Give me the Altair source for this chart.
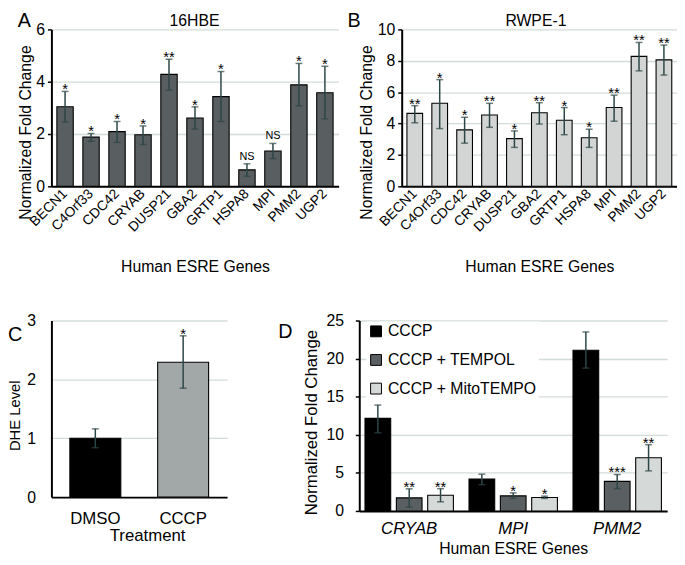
import altair as alt
import pandas as pd

FONT = "Liberation Sans, Arial, sans-serif"
EC = "#2c4646"
GRID = "#d3dcd9"

# ---------------- data ----------------
genes = ["BECN1", "C4Orf33", "CDC42", "CRYAB", "DUSP21", "GBA2", "GRTP1", "HSPA8", "MPI", "PMM2", "UGP2"]

a_val = [3.04, 1.88, 2.09, 1.97, 4.28, 2.61, 3.43, 0.63, 1.35, 3.88, 3.58]
a_lo = [2.46, 1.72, 1.68, 1.60, 3.68, 2.19, 2.48, 0.38, 1.06, 3.08, 2.58]
a_hi = [3.63, 2.02, 2.48, 2.31, 4.86, 3.04, 4.39, 0.86, 1.64, 4.70, 4.59]
a_sig = ["*", "*", "*", "*", "**", "*", "*", "NS", "NS", "*", "*"]

b_val = [4.65, 5.29, 3.60, 4.55, 3.04, 4.69, 4.21, 3.10, 5.02, 8.28, 8.06]
b_lo = [4.05, 3.68, 2.75, 3.76, 2.48, 3.97, 3.29, 2.48, 4.15, 7.36, 7.09]
b_hi = [5.14, 6.80, 4.40, 5.29, 3.53, 5.33, 5.02, 3.64, 5.81, 9.17, 9.00]
b_sig = ["**", "*", "*", "**", "*", "**", "*", "*", "**", "**", "**"]

c_treat = ["DMSO", "CCCP"]
c_val = [1.00, 2.29]
c_lo = [0.84, 1.85]
c_hi = [1.16, 2.74]
c_sig = ["", "*"]
c_fill = ["#000000", "#a2a8a8"]

d_genes = ["CRYAB", "MPI", "PMM2"]
d_treats = ["CCCP", "CCCP + TEMPOL", "CCCP + MitoTEMPO"]
d_colors = ["#000000", "#5a5f61", "#d5d9d7"]
d_cccp = [12.15, 4.18, 21.10]
d_cccp_lo = [10.26, 3.45, 18.75]
d_cccp_hi = [13.90, 4.83, 23.50]
d_tempol = [1.72, 1.98, 3.88]
d_tempol_lo = [0.50, 1.64, 2.93]
d_tempol_hi = [2.90, 2.37, 4.78]
d_mito = [2.07, 1.77, 6.98]
d_mito_lo = [1.20, 1.64, 5.26]
d_mito_hi = [2.93, 1.94, 8.70]
d_sig = [["", "", ""], ["**", "*", "***"], ["**", "*", "**"]]


def yaxis(vals, title, tx, ty, tsize=17, lpad=3, tick=True):
    return alt.Axis(values=vals, format="d", labelOverlap=False, title=title, grid=True,
                    gridColor=GRID, gridWidth=1.3,
                    domainColor="black", domainWidth=2, ticks=tick, tickColor="black",
                    tickSize=4 if tick else 0, tickWidth=1.5, labelFont=FONT, labelFontSize=16,
                    labelColor="black", labelPadding=lpad, titleFont=FONT, titleFontSize=tsize,
                    titleFontWeight="normal", titleColor="black", titleAngle=-90,
                    titleAlign="center", titleBaseline="alphabetic", titleX=tx, titleY=ty)


def label_layer(text, x, y, size, align="left"):
    return alt.Chart(pd.DataFrame({"t": [text]})).mark_text(
        font=FONT, fontSize=size, align=align, baseline="alphabetic", color="black"
    ).encode(text="t:N", x=alt.value(x), y=alt.value(y))


def value_layers(base, scale, axis, bar_kwargs, bar_extra):
    Y = lambda f: alt.Y(f, scale=scale, axis=axis)
    bars = base.mark_bar(stroke="black", strokeWidth=1.1, **bar_kwargs).encode(y=Y("value:Q"), **bar_extra)
    rule = base.mark_rule(color=EC, strokeWidth=1.5).encode(y=Y("lo:Q"), y2="hi:Q")
    cap_hi = base.mark_tick(color=EC, thickness=1.5, size=7).encode(y=Y("hi:Q"))
    cap_lo = base.mark_tick(color=EC, thickness=1.5, size=7).encode(y=Y("lo:Q"))
    stars = base.transform_filter("datum.sig != 'NS'").mark_text(
        font=FONT, fontSize=15, baseline="alphabetic", dy=3, color="black").encode(
        y=Y("hi:Q"), text="sig:N")
    ns = base.transform_filter("datum.sig == 'NS'").mark_text(
        font=FONT, fontSize=11, baseline="alphabetic", dy=-4, color="black").encode(
        y=Y("hi:Q"), text="sig:N")
    return [bars, rule, cap_hi, cap_lo, stars, ns]


def gene_panel(vals, lo, hi, sig, ymax, ystep, fill, width, height, title, title_x,
               letter, letter_x, yt_x):
    df = pd.DataFrame({"gene": genes, "value": vals, "lo": lo, "hi": hi, "sig": sig})
    x = alt.X("gene:N", sort=genes, title="Human ESRE Genes",
              scale=alt.Scale(paddingInner=0.37, paddingOuter=0.21),
              axis=alt.Axis(labelAngle=-45, labelAlign="right", labelBaseline="middle",
                            labelFont=FONT, labelFontSize=14, labelColor="black", labelPadding=5,
                            labelOverlap=False,
                            ticks=False, tickSize=0, domainColor="black", domainWidth=2,
                            titleFont=FONT, titleFontSize=16, titleFontWeight="normal",
                            titleColor="black", titleY=86, titleBaseline="alphabetic"))
    yscale = alt.Scale(domain=[0, ymax], nice=False)
    ax = yaxis(list(range(0, ymax + 1, ystep)), "Normalized Fold Change", yt_x, 104, tsize=16)
    base = alt.Chart(df).encode(x=x)
    layers = value_layers(base, yscale, ax, {"fill": fill}, {})
    t = label_layer(title, title_x, -3, 16, align="center")
    let = label_layer(letter, letter_x, -2, 20)
    return alt.layer(*layers, t, let).properties(width=width, height=height)


A = gene_panel(a_val, a_lo, a_hi, a_sig, 6, 2, "#595e60", 291, 159, "16HBE", 145, "A", -34, -21)
B = gene_panel(b_val, b_lo, b_hi, b_sig, 10, 2, "#d2d5d4", 279, 159, "RWPE-1", 136, "B", -55, -31)

# ---------------- panel C ----------------
dfc = pd.DataFrame({"treat": c_treat, "value": c_val, "lo": c_lo, "hi": c_hi, "sig": c_sig, "fill": c_fill})
xc = alt.X("treat:N", sort=c_treat, title="Treatment",
           scale=alt.Scale(paddingInner=0.42, paddingOuter=0.21),
           axis=alt.Axis(labelAngle=0, labelFont=FONT, labelFontSize=17, labelColor="black",
                         labelPadding=14, ticks=False, tickSize=0, domainColor="black", domainWidth=2,
                         titleFont=FONT, titleFontSize=17, titleFontWeight="normal", titleColor="black",
                         titleX=97, titleY=44, titleBaseline="alphabetic", titleAlign="center"))
cscale = alt.Scale(domain=[0, 3], nice=False)
cax = yaxis([0, 1, 2, 3], "DHE Level", -32, 96, tsize=15, lpad=16, tick=False)
basec = alt.Chart(dfc).encode(x=xc)
clayers = value_layers(basec, cscale, cax, {}, {"color": alt.Color("fill:N", scale=None)})
C = alt.layer(*clayers, label_layer("C", -44, 21, 20)).properties(width=178, height=179)

# ---------------- panel D ----------------
rows = []
series = [(d_cccp, d_cccp_lo, d_cccp_hi), (d_tempol, d_tempol_lo, d_tempol_hi), (d_mito, d_mito_lo, d_mito_hi)]
for ti, (v, l, h) in enumerate(series):
    for gi, g in enumerate(d_genes):
        rows.append({"gene": g, "treat": d_treats[ti], "value": v[gi], "lo": l[gi], "hi": h[gi],
                     "sig": d_sig[ti][gi]})
dfd = pd.DataFrame(rows)
xd = alt.X("gene:N", sort=d_genes, title="Human ESRE Genes",
           scale=alt.Scale(paddingInner=0.15, paddingOuter=0.055),
           axis=alt.Axis(labelAngle=0, labelFont=FONT, labelFontSize=17, labelFontStyle="italic",
                         labelColor="black", labelPadding=10, ticks=False, tickSize=0,
                         domainColor="black", domainWidth=2, titleFont=FONT, titleFontSize=16,
                         titleFontWeight="normal", titleColor="black", titleY=43,
                         titleBaseline="alphabetic"))
xo = alt.XOffset("treat:N", sort=d_treats, scale=alt.Scale(paddingInner=0.18, paddingOuter=0))
dscale = alt.Scale(domain=[0, 25], nice=False)
dax = yaxis([0, 5, 10, 15, 20, 25], "Normalized Fold Change", -43, 103, lpad=12)
based = alt.Chart(dfd).encode(x=xd, xOffset=xo)
dcolor = alt.Color("treat:N", sort=d_treats,
                   scale=alt.Scale(domain=d_treats, range=d_colors),
                   legend=alt.Legend(title=None, orient="none", legendX=7, legendY=1,
                                     symbolType="square", symbolSize=121, symbolStrokeColor="black",
                                     symbolStrokeWidth=1, labelFont=FONT, labelFontSize=16,
                                     labelColor="black", rowPadding=13, labelOffset=4,
                                     fillColor="white", padding=2))
dlayers = value_layers(based, dscale, dax, {}, {"color": dcolor})
D = alt.layer(*dlayers, label_layer("D", -82, 18, 20)).properties(width=312, height=193)

row1 = alt.hconcat(A, B, spacing=64, bounds="flush").resolve_scale(x="independent", y="independent")
row2 = alt.hconcat(C, D, spacing=134, bounds="flush").resolve_scale(
    x="independent", y="independent", color="independent").resolve_legend(color="independent")
chart = alt.vconcat(row1, row2, spacing=39).resolve_scale(
    x="independent", y="independent", color="independent").properties(padding=0, background="white")
chart = chart.configure_view(stroke=None)

chart.save("out.html", embed_options={"renderer": "svg", "actions": False})
